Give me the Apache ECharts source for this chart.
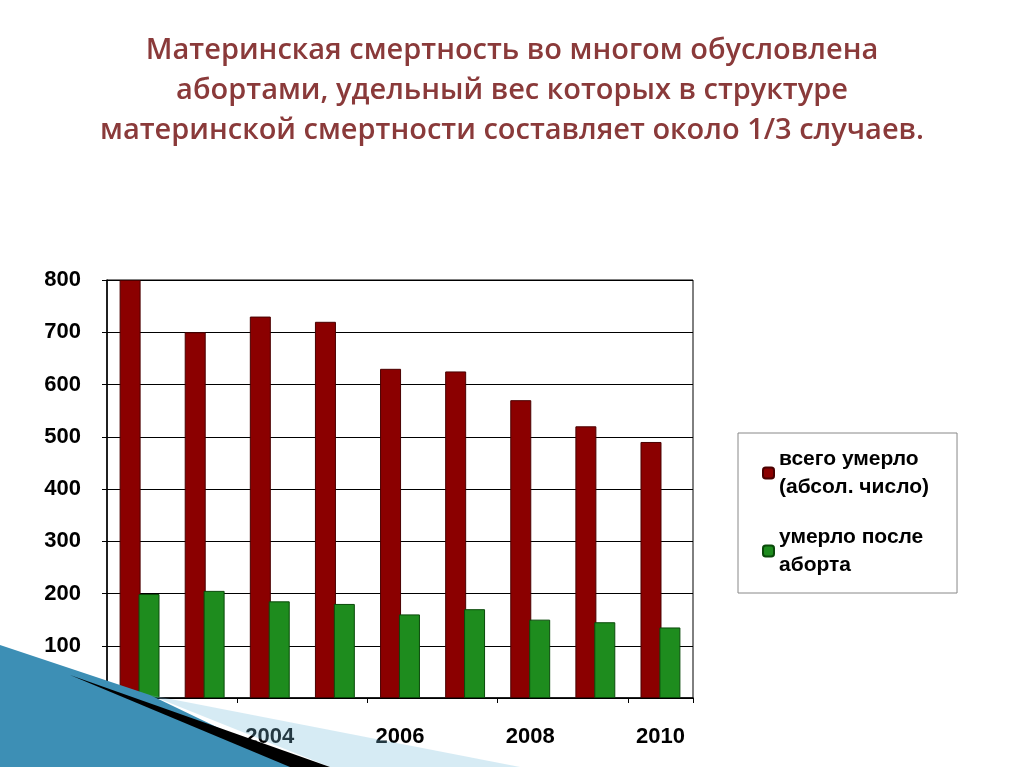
<!DOCTYPE html>
<html><head><meta charset="utf-8">
<script src="https://cdn.jsdelivr.net/npm/echarts@6/dist/echarts.min.js"></script>
<style>html,body{margin:0;padding:0;background:#fff}#c{width:1024px;height:767px}</style>
</head><body><div id="c"></div>
<script>
const years = ['2002','2003','2004','2005','2006','2007','2008','2009','2010'];
const totalDeaths = [800, 700, 730, 720, 630, 625, 570, 520, 490];
const abortionDeaths = [199, 205, 185, 180, 160, 170, 150, 145, 135];
const yTicks = [0,100,200,300,400,500,600,700,800];
const titleText = 'Материнская смертность во многом обусловлена\nабортами, удельный вес которых в структуре\nматеринской смертности составляет около 1/3 случаев.';

const chart = echarts.init(document.getElementById('c'));
chart.setOption({
  animation:false,
  title:{text:titleText,left:'center',top:26,textStyle:{fontFamily:'Open Sans',fontSize:29,fontWeight:600,color:'#8a3a3a',lineHeight:40}},
  grid:{left:107,top:280,width:586,height:418,show:true,borderColor:'#000',borderWidth:1,backgroundColor:'transparent'},
  xAxis:{type:'category',data:years,
    axisLine:{lineStyle:{color:'#000',width:1.5}},
    axisTick:{show:true,lineStyle:{color:'#000'}},
    axisLabel:{interval:1,fontFamily:'Liberation Sans',fontWeight:'bold',fontSize:22,color:'#000',margin:28}},
  yAxis:{type:'value',min:0,max:800,interval:100,
    axisLine:{show:true,lineStyle:{color:'#000',width:1.5}},
    axisTick:{show:true,lineStyle:{color:'#000'}},
    splitLine:{lineStyle:{color:'#000',width:1}},
    axisLabel:{fontFamily:'Liberation Sans',fontWeight:'bold',fontSize:22,color:'#000',margin:26,
      formatter:v=>yTicks.includes(v)?String(v):''}},
  legend:{orient:'vertical',left:738,top:433,itemWidth:11,itemHeight:11,itemGap:22,
    backgroundColor:'#fff',borderColor:'#888',borderWidth:1,padding:[12,28,14,24],
    textStyle:{fontFamily:'Liberation Sans',fontWeight:'bold',fontSize:21,color:'#000',lineHeight:28},
    data:[{name:'всего умерло\n(абсол. число)'},{name:'умерло после\nаборта'}]},
  series:[
    {name:'всего умерло\n(абсол. число)',type:'bar',data:totalDeaths,barWidth:21,barGap:'-10%',
      itemStyle:{color:'#8b0000',borderColor:'#4a0000',borderWidth:1}},
    {name:'умерло после\nаборта',type:'bar',data:abortionDeaths,barWidth:21,
      itemStyle:{color:'#1e8c1e',borderColor:'#0a4a0a',borderWidth:1}}
  ],
  graphic:[
    {type:'polygon',shape:{points:[[0,645],[150,695],[300,767],[0,767]]},style:{fill:'#3d8fb5'},z:100},
    {type:'polygon',shape:{points:[[70,675],[330,767],[290,767]]},style:{fill:'#000'},z:101},
    {type:'polygon',shape:{points:[[150,695],[520,767],[330,767]]},style:{fill:'rgba(120,190,220,0.3)'},z:99}
  ]
});
</script></body></html>
